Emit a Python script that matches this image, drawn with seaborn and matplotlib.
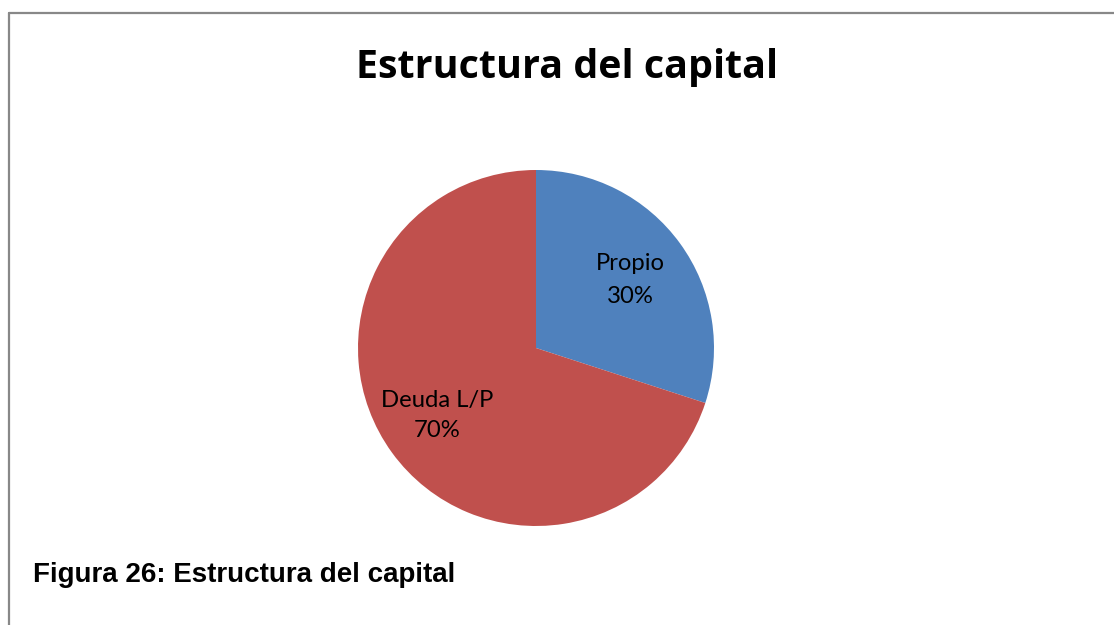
import matplotlib
matplotlib.use("Agg")
import matplotlib.pyplot as plt
import seaborn as sns
from matplotlib.lines import Line2D
from matplotlib import font_manager as fm

categories = ["Propio", "Deuda L/P"]
values = [30, 70]
colors = ["#4F81BD", "#C0504D"]
title = "Estructura del capital"
caption = "Figura 26: Estructura del capital"

sns.set_theme(style="white")
plt.rcParams['font.family'] = ['Lato', 'DejaVu Sans']
plt.rcParams['text.color'] = 'black'

W, H = 1114, 625
fig = plt.figure(figsize=(W / 100, H / 100), dpi=100)
fig.patch.set_facecolor("white")

cx, cy, r = 536, 348, 178
ax = fig.add_axes([(cx - r) / W, 1 - (cy + r) / H, 2 * r / W, 2 * r / H])
wedges, texts = ax.pie(values, colors=colors, startangle=90, counterclock=False,
                       radius=1.0, wedgeprops=dict(linewidth=0))
ax.set_xlim(-1, 1)
ax.set_ylim(-1, 1)
ax.set_aspect("auto")
ax.axis("off")

# label anchor: (center x, baseline of name line, baseline of percent line)
label_pos = [(630, 270, 303), (437, 407, 437)]
for cat, val, (px, b1, b2) in zip(categories, values, label_pos):
    fig.text(px / W, 1 - b1 / H, cat, ha="center", va="baseline",
             fontsize=17.2, color="black")
    fig.text(px / W, 1 - b2 / H, f"{val}%", ha="center", va="baseline",
             fontsize=17.2, color="black")

fig.text(567 / W, 1 - 78 / H, title, ha="center", va="baseline", color="black",
         fontsize=28.4, fontweight="bold", family=['Open Sans', 'DejaVu Sans'])

cap_fp = None
for f in fm.fontManager.ttflist:
    if f.name == "Liberation Sans" and f.weight in ("bold", 700) and f.style == "normal":
        cap_fp = fm.FontProperties(fname=f.fname, size=20)
        break
if cap_fp is None:
    cap_fp = fm.FontProperties(family="DejaVu Sans", weight="bold", size=19)
fig.text(33 / W, 1 - 582 / H, caption, ha="left", va="baseline", color="black",
         fontproperties=cap_fp)

fig.add_artist(Line2D([9 / W, 9 / W], [0, 1 - 12.5 / H], color="#888888", lw=1.6,
                      transform=fig.transFigure))
fig.add_artist(Line2D([9 / W, 1], [1 - 12.5 / H, 1 - 12.5 / H], color="#888888", lw=1.6,
                      transform=fig.transFigure))

fig.savefig("out.png", dpi=100, facecolor="white")
